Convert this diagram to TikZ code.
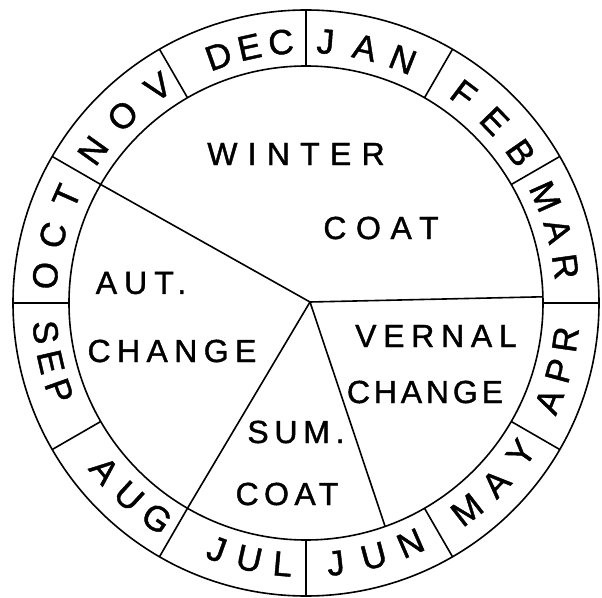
\documentclass[tikz,border=0pt]{standalone}
\usepackage{fontspec}
\setmainfont[FakeBold=1.2]{Liberation Sans}
\begin{document}
\begin{tikzpicture}[x=1pt,y=1pt,
  ring/.style={line width=1.6pt},
  mon/.style={inner sep=0pt,font=\fontsize{35}{40}\selectfont},
  lab/.style={inner sep=0pt,font=\fontsize{32}{36}\selectfont\addfontfeature{LetterSpace=#1}}]
\useasboundingbox (-306,-294) rectangle (296,303);
\coordinate (O) at (0,0);
\coordinate (P) at (4,1);
\draw[ring] (O) circle[radius=293];
\draw[ring] (O) circle[radius=237];
\foreach \a in {0,30,...,330}{
  \coordinate (di\a) at (\a:237);
  \coordinate (do\a) at (\a:293);
  \draw[ring] (di\a) -- (do\a);
}
\coordinate (e1) at (150:237);
\coordinate (e2) at (240:237);
\coordinate (e3) at (289.5:237);
\coordinate (e4) at (1.5:237);
\foreach \e in {e1,e2,e3,e4} \draw[ring] (P) -- (\e);
\foreach \c/\sp/\s/\la/\lb/\lc [count=\k] in {
  77/8.7/-1/J/A/N, 44/9/-1/F/E/B, 16/8/-1/M/A/R, 345/7/1/A/P/R,
  316.5/8.6/1/M/A/Y, 285/8.5/1/J/U/N, 257.5/7.4/1/J/U/L, 227.5/7.8/1/A/U/G,
  193/6.6/1/S/E/P, 165/9/-1/O/C/T, 134.4/10/-1/N/O/V, 102.5/7/-1/D/E/C}{
  \foreach \l/\i/\j in {\la/-1/a,\lb/0/b,\lc/1/c}{
    \pgfmathsetmacro\t{\c+\s*\i*\sp}
    \pgfmathsetmacro\r{\t+90*\s}
    \node[mon,rotate=\r] (m\k\j) at (\t:262) {\l};
  }
}
\node[lab=32] (winter) at (-10,149) {WINTER};
\node[lab=30] (coatw) at (75,75) {COAT};
\node[lab=22] (aut) at (-165,20) {AUT.};
\node[lab=20] (changea) at (-134,-48) {CHANGE};
\node[lab=21] (vernal) at (130,-33) {VERNAL};
\node[lab=12] (changev) at (119,-89) {CHANGE};
\node[lab=18] (sum) at (-10,-129) {SUM.};
\node[lab=17] (coats) at (-19,-191) {COAT};
\end{tikzpicture}
\end{document}
